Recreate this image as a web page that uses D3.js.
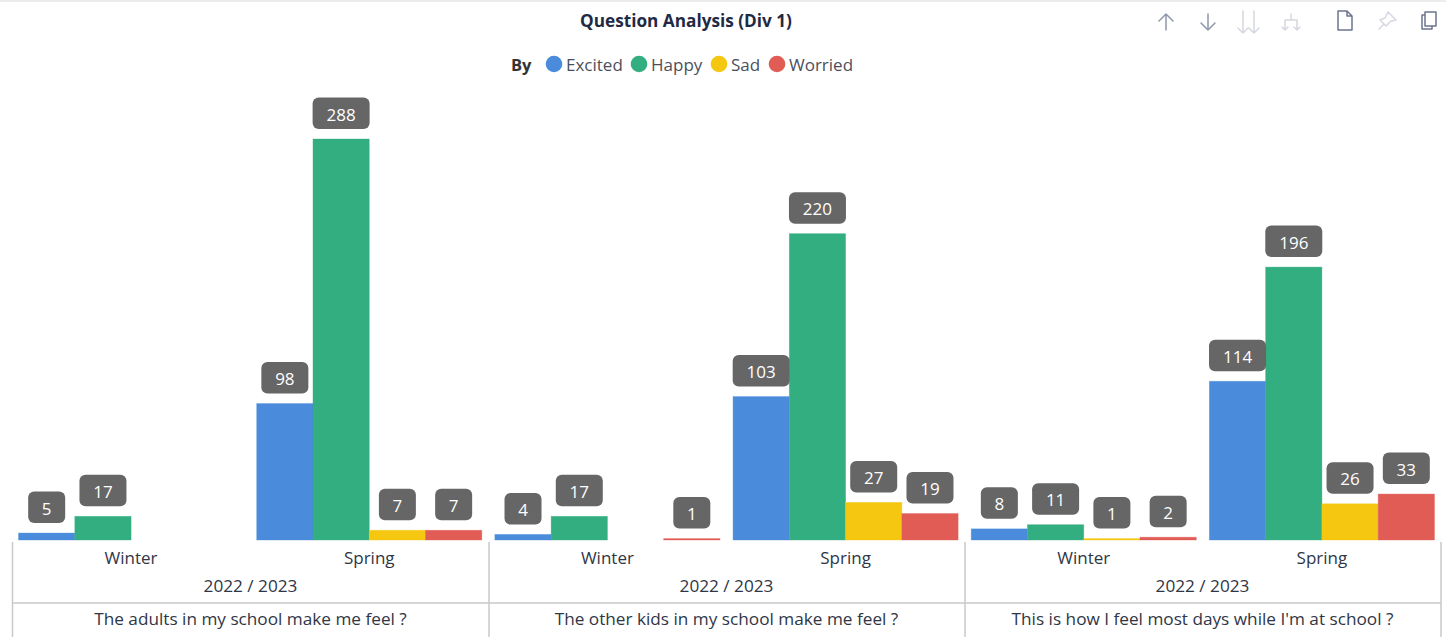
<!DOCTYPE html>
<html><head><meta charset="utf-8">
<style>
html,body{margin:0;padding:0;background:#fff;overflow:hidden}
svg{display:block}
text{font-family:"Open Sans","Noto Sans",sans-serif}
</style>
<script src="https://cdn.jsdelivr.net/npm/d3@7"></script>
</head><body>
<svg id="c" width="1446" height="644"></svg>
<script>
const questions=["The adults in my school make me feel ?","The other kids in my school make me feel ?","This is how I feel most days while I'm at school ?"];
const seasons=["Winter","Spring"];
const yearLabel="2022 / 2023";
const seriesNames=["Excited","Happy","Sad","Worried"];
const seriesColors=["#4a8bdc","#33ae80","#f5c710","#e05c55"];
const excited=[5,98,4,103,8,114];
const happy=[17,288,17,220,11,196];
const sad=[null,7,null,27,1,26];
const worried=[null,7,1,19,2,33];
const seriesValues=[excited,happy,sad,worried];
const title="Question Analysis (Div 1)";

const svg=d3.select("#c");
const textCol="#2f3646";
const lineCol="#c9c9c9";
const keys=d3.range(questions.length*seasons.length);
const x0=d3.scaleBand().domain(keys).range([12,1441]).paddingInner(0.055).paddingOuter(0.0275);
const x1=d3.scaleBand().domain(seriesNames).range([0,x0.bandwidth()]);
const y=d3.scaleLinear().domain([0,288]).range([540,139]);
const qx=d3.scaleBand().domain(questions).range([13,1441]);

svg.append("line").attr("x1",0).attr("x2",1446).attr("y1",1).attr("y2",1).attr("stroke","#e6e6e6").attr("stroke-width",1.5);
svg.append("text").attr("x",686).attr("y",26.5).attr("text-anchor","middle").attr("font-size",17.2).attr("font-weight",700).attr("fill","#1f2a44").text(title);

// legend
const legend=svg.append("g");
legend.append("text").attr("x",511).attr("y",71).attr("font-size",16.5).attr("font-weight",700).attr("fill","#333").text("By");
const legendX=[554,639,719,777];
seriesNames.forEach((n,i)=>{
  legend.append("circle").attr("cx",legendX[i]).attr("cy",64).attr("r",8.3).attr("fill",seriesColors[i]);
  legend.append("text").attr("x",legendX[i]+12).attr("y",71).attr("font-size",17).attr("fill","#4b4f5c").text(n);
});

// bars
const rows=[];
seriesNames.forEach((n,s)=>keys.forEach(k=>{ if(seriesValues[s][k]!=null) rows.push({k,s,n,v:seriesValues[s][k]}); }));
svg.append("g").selectAll("rect").data(rows).join("rect")
  .attr("x",d=>x0(d.k)+x1(d.n)).attr("width",x1.bandwidth())
  .attr("y",d=>y(d.v)).attr("height",d=>y(0)-y(d.v))
  .attr("fill",d=>seriesColors[d.s]).attr("stroke",d=>seriesColors[d.s]).attr("stroke-opacity",.45).attr("stroke-width",.8);

// data labels
const lab=svg.append("g").selectAll("g").data(rows).join("g")
  .attr("transform",d=>`translate(${x0(d.k)+x1(d.n)+x1.bandwidth()/2},${y(d.v)-10})`);
const labW=d=>String(d.v).length===1?37:String(d.v).length===2?47:57;
lab.append("rect").attr("x",d=>-labW(d)/2).attr("y",-31.5).attr("width",labW).attr("height",31.5).attr("rx",6).attr("fill","#666");
lab.append("text").attr("y",-8.5).attr("text-anchor","middle").attr("font-size",17).attr("fill","#fff").text(d=>d.v);

// axis
const axis=svg.append("g");
const vx=[12.5].concat(questions.map(q=>qx(q)+qx.bandwidth()));
vx.forEach(v=>axis.append("line").attr("x1",v).attr("x2",v).attr("y1",542).attr("y2",637).attr("stroke",lineCol).attr("stroke-width",1.5));
axis.append("line").attr("x1",12).attr("x2",1441).attr("y1",603).attr("y2",603).attr("stroke",lineCol).attr("stroke-width",1.5);
keys.forEach(k=>{
  axis.append("text").attr("x",x0(k)+x0.bandwidth()/2).attr("y",564).attr("text-anchor","middle").attr("font-size",17).attr("fill",textCol).text(seasons[k%2]);
});
questions.forEach(q=>{
  const c=qx(q)+qx.bandwidth()/2-0.5;
  axis.append("text").attr("x",c).attr("y",592).attr("text-anchor","middle").attr("font-size",17.2).attr("fill",textCol).text(yearLabel);
  axis.append("text").attr("x",c).attr("y",625).attr("text-anchor","middle").attr("font-size",17.2).attr("fill",textCol).text(q);
});

// toolbar icons
const ic=svg.append("g").attr("fill","none").attr("stroke-width",1.5).attr("stroke-linecap","round").attr("stroke-linejoin","round");
const dark="#8f97ab",light="#d5d8e0";
ic.append("path").attr("stroke",dark).attr("d","M1166 30V14M1159 21L1166 14L1173 21");
ic.append("path").attr("stroke",dark).attr("d","M1208 14V30M1201 23L1208 30L1215 23");
ic.append("path").attr("stroke",light).attr("d","M1243 11V33M1238 28L1243 33L1248 28M1254 11V33M1249 28L1254 33L1259 28");
ic.append("path").attr("stroke",light).attr("d","M1291 14V20M1285 30V20H1297V30M1282 27L1285 30L1288 27M1294 27L1297 30L1300 27");
ic.append("path").attr("stroke","#6e7690").attr("d","M1338 11H1347L1352 16V30H1338ZM1347 11V16H1352");
ic.append("path").attr("stroke",light).attr("d","M1388 12L1396 20L1391 21L1386 26L1384 24L1379 29M1384 24L1380 20L1385 18L1388 12");
ic.append("path").attr("stroke","#6e7690").attr("d","M1425 12H1436V26H1425ZM1425 15H1422V29H1432V26");
</script>
</body></html>
